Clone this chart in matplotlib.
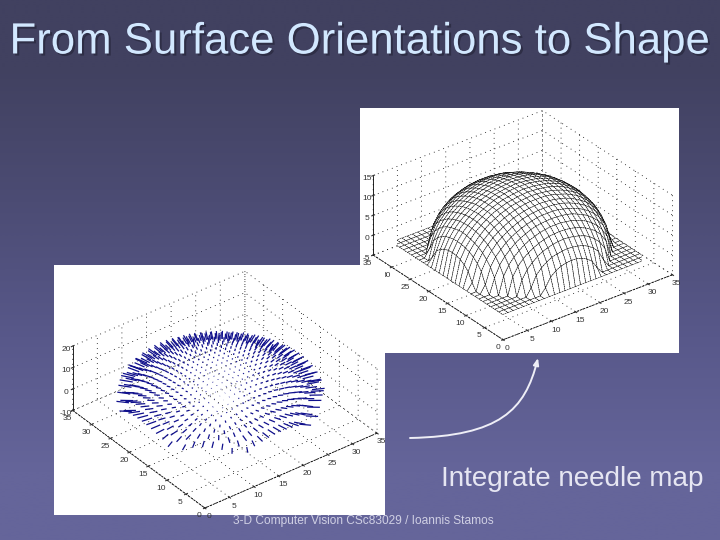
#!/usr/bin/python
import numpy as np
import matplotlib
matplotlib.use("Agg")
import matplotlib.pyplot as plt
import matplotlib.patheffects as pe
from matplotlib.patches import FancyArrowPatch
from matplotlib.path import Path

plt.rcParams["font.family"] = ["Liberation Sans", "DejaVu Sans"]
plt.rcParams["axes.unicode_minus"] = False

# Texts
title_text = "From Surface Orientations to Shape"
caption_text = "Integrate needle map"
footer_text = "3-D Computer Vision CSc83029 / Ioannis Stamos"

# Slide background, top to bottom
background_colors = ["#414160", "#4c4c74", "#58588a", "#65659a"]

# Tick labels of the two plots
floor_ticks = [0, 5, 10, 15, 20, 25, 30, 35]
surface_z_ticks = [-5, 0, 5, 10, 15]
needle_z_ticks = [-10, 0, 10, 20]

# Dome height, one quarter of the grid (centre to edge)
dome_quarter = [
	[14.0, 14.0, 13.9, 13.7, 13.4, 13.1, 12.6, 12.1, 11.5, 10.7, 9.8, 8.7, 7.2, 5.2, 0.0],
	[14.0, 13.9, 13.8, 13.6, 13.4, 13.0, 12.6, 12.1, 11.4, 10.7, 9.7, 8.6, 7.1, 5.1, 0.0],
	[13.9, 13.8, 13.7, 13.5, 13.3, 12.9, 12.5, 12.0, 11.3, 10.5, 9.6, 8.4, 6.9, 4.8, 0.0],
	[13.7, 13.6, 13.5, 13.3, 13.1, 12.7, 12.3, 11.7, 11.1, 10.3, 9.3, 8.1, 6.6, 4.2, 0.0],
	[13.4, 13.4, 13.3, 13.1, 12.8, 12.4, 12.0, 11.4, 10.8, 9.9, 8.9, 7.7, 6.0, 3.3, 0.0],
	[13.1, 13.0, 12.9, 12.7, 12.4, 12.1, 11.6, 11.0, 10.3, 9.5, 8.4, 7.1, 5.2, 1.4, 0.0],
	[12.6, 12.6, 12.5, 12.3, 12.0, 11.6, 11.1, 10.5, 9.8, 8.9, 7.7, 6.2, 4.0, 0.0, 0.0],
	[12.1, 12.1, 12.0, 11.7, 11.4, 11.0, 10.5, 9.9, 9.1, 8.1, 6.9, 5.1, 1.7, 0.0, 0.0],
	[11.5, 11.4, 11.3, 11.1, 10.8, 10.3, 9.8, 9.1, 8.2, 7.1, 5.7, 3.3, 0.0, 0.0, 0.0],
	[10.7, 10.7, 10.5, 10.3, 9.9, 9.5, 8.9, 8.1, 7.1, 5.8, 3.9, 0.0, 0.0, 0.0, 0.0],
	[9.8, 9.7, 9.6, 9.3, 8.9, 8.4, 7.7, 6.9, 5.7, 3.9, 0.0, 0.0, 0.0, 0.0, 0.0],
	[8.7, 8.6, 8.4, 8.1, 7.7, 7.1, 6.2, 5.1, 3.3, 0.0, 0.0, 0.0, 0.0, 0.0, 0.0],
	[7.2, 7.1, 6.9, 6.6, 6.0, 5.2, 4.0, 1.7, 0.0, 0.0, 0.0, 0.0, 0.0, 0.0, 0.0],
	[5.2, 5.1, 4.8, 4.2, 3.3, 1.4, 0.0, 0.0, 0.0, 0.0, 0.0, 0.0, 0.0, 0.0, 0.0],
	[0.0, 0.0, 0.0, 0.0, 0.0, 0.0, 0.0, 0.0, 0.0, 0.0, 0.0, 0.0, 0.0, 0.0, 0.0],
]

# Arrow curve between the two plots, in slide pixels
arrow_x = [410, 500, 525, 538]
arrow_y = [438, 436, 410, 358]

W, H = 720, 540

# Mirror the quarter to the whole dome
def full_dome():
	quarter = np.array(dome_quarter)
	top = np.hstack([quarter[:, :0:-1], quarter])
	return np.vstack([top[:0:-1], top])

def px_rect(left, top, right, bottom):
	return [left / W, 1 - bottom / H, (right - left) / W, (bottom - top) / H]

# White sheet behind a plot, the 3D axes themselves are bigger than their square box
def make_sheet(fig, rect, order):
	sheet = fig.add_axes(px_rect(*rect), zorder=order)
	sheet.set_facecolor("white")
	sheet.set_xticks([])
	sheet.set_yticks([])
	for spine in sheet.spines.values():
		spine.set_visible(False)

# MATLAB style 3D box
def make_box(fig, rect, order, z_ticks, z_lim, aspect, zoom, elev):
	ax = fig.add_axes(px_rect(*rect), projection="3d", proj_type="ortho", zorder=order)
	ax.patch.set_alpha(0)
	ax.view_init(elev=elev, azim=-127.5)
	ax.set_box_aspect(aspect, zoom=zoom)
	ax.set_xlim(0, 35)
	ax.set_ylim(0, 35)
	ax.set_zlim(*z_lim)
	ax.set_xticks(floor_ticks)
	ax.set_yticks(floor_ticks)
	ax.set_zticks(z_ticks)
	for axis in (ax.xaxis, ax.yaxis, ax.zaxis):
		axis.set_pane_color((1, 1, 1, 0))
		axis.pane.set_edgecolor((1, 1, 1, 0))
		axis.line.set_color("black")
		axis.line.set_linewidth(0.6)
		axis._axinfo["grid"].update(color="black", linewidth=0.6, linestyle=(0, (1, 5)))
		axis._axinfo["tick"].update(inward_factor=0.1, outward_factor=0.1)
	ax.xaxis.line.set_linestyle((0, (3, 1)))
	ax.yaxis.line.set_linestyle((0, (3, 1)))
	ax.tick_params(axis="x", labelsize=6, pad=-5, colors="#333333", length=2)
	ax.tick_params(axis="y", labelsize=6, pad=-5, colors="#333333", length=2)
	ax.tick_params(axis="z", labelsize=6, pad=-6, colors="#333333", length=2)
	return ax

## ================================================================================================
## SCRIPT
## ================================================================================================
fig = plt.figure(figsize=(W / 100, H / 100), dpi=100)

# Background, title and other slide texts share one pixel axes
bg = fig.add_axes([0, 0, 1, 1], zorder=0)
gradient = np.array([matplotlib.colors.to_rgb(c) for c in background_colors])[:, None, :]
bg.imshow(gradient, aspect="auto", extent=(0, W, H, 0), interpolation="bilinear")
bg.set_xlim(0, W)
bg.set_ylim(H, 0)
bg.axis("off")

bg.text(360, 42, title_text, color="#d2e8ff", fontsize=31.5, ha="center", va="center",
	path_effects=[pe.withSimplePatchShadow(offset=(1.5, -1.5), shadow_rgbFace="#2a2a40", alpha=0.8)])
bg.text(572, 479.5, caption_text, color="#e6e6f2", fontsize=20.1, ha="center", va="center")
bg.text(363.5, 521, footer_text, color="#d0d0e4", fontsize=8.6, ha="center", va="center")

curve = Path(list(zip(arrow_x, arrow_y)), [Path.MOVETO, Path.CURVE4, Path.CURVE4, Path.CURVE4])
bg.add_patch(FancyArrowPatch(path=curve, arrowstyle="-|>,head_length=4,head_width=1.6",
	color="#eeeef6", linewidth=1.4))

# Surface plot, upper right
dome = full_dome()
offsets = np.arange(-14, 15)
grid_x, grid_y = np.meshgrid(18 + offsets * 1.07, 19 + offsets * 1.07)

make_sheet(fig, (360, 108, 679, 353), 1)
ax_top = make_box(fig, (360, 106, 679, 351), 2, surface_z_ticks, (-5, 15), (1, 1, 0.43), 1.25, 30)
ax_top.plot_surface(grid_x, grid_y, dome * 1.15 - 2.5, rstride=1, cstride=1, color="white",
	edgecolor="black", linewidth=0.4, linestyle=(0, (3, 1)), shade=False)

# Needle map, lower left, long needles at the rim and short ones inside
grad_y, grad_x = np.gradient(dome)
inside = dome > 0
norm = np.sqrt(grad_x**2 + grad_y**2 + 1)
slope = np.sqrt(grad_x**2 + grad_y**2) / norm
needle_size = 0.15 + 0.85 * slope**2
needle_u = -grad_x / norm * needle_size
needle_v = -grad_y / norm * needle_size
needle_w = 1 / norm * needle_size

make_sheet(fig, (54, 265, 385, 515), 3)
ax_low = make_box(fig, (56, 268, 387, 518), 4, needle_z_ticks, (-10, 20), (1, 1, 0.36), 1.23, 34.5)
ax_low.quiver(grid_x[inside] - 1, grid_y[inside] - 1, dome[inside] * 1.05,
	needle_u[inside], needle_v[inside], needle_w[inside],
	length=2.3, arrow_length_ratio=0.0, color="#10108c", linewidth=0.9)

fig.savefig("out.png", dpi=100)
